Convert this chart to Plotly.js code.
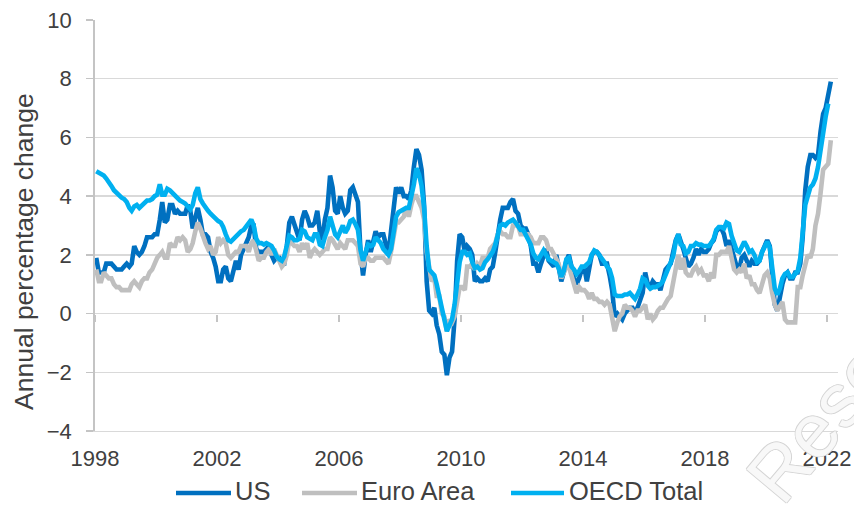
<!DOCTYPE html>
<html>
<head>
<meta charset="utf-8">
<script src="https://cdn.plot.ly/plotly-3.0.1.min.js"></script>
<style>
  html, body { margin: 0; padding: 0; background: #ffffff; }
  #chart { width: 854px; height: 507px; }
</style>
</head>
<body>
<div id="chart"></div>
<script>
// Monthly annual % change, Jan 1998 onward
const startYear = 1998;
const seriesNames = ['US', 'Euro Area', 'OECD Total'];
const seriesColors = ['#0070C0', '#BFBFBF', '#00B0F0'];

const usCpi = [
  1.9,1.4,1.4,1.4,1.7,1.7,1.7,1.6,1.5,1.5,1.5,1.6,
  1.7,1.6,1.7,2.3,2.1,2.0,2.1,2.3,2.6,2.6,2.6,2.7,
  2.7,3.2,3.8,3.1,3.2,3.7,3.7,3.4,3.5,3.4,3.4,3.4,
  3.7,3.5,2.9,3.3,3.6,3.2,2.7,2.7,2.6,2.1,1.9,1.6,
  1.1,1.1,1.5,1.6,1.2,1.1,1.5,1.8,1.5,2.0,2.2,2.4,
  2.6,3.0,3.0,2.2,2.1,2.1,2.1,2.2,2.3,2.0,1.8,1.9,
  1.9,1.7,1.7,2.3,3.1,3.3,3.0,2.7,2.5,3.2,3.5,3.3,
  3.0,3.0,3.1,3.5,2.8,2.5,3.2,3.6,4.7,4.3,3.5,3.4,
  4.0,3.6,3.4,3.5,4.2,4.3,4.1,3.8,2.1,1.3,2.0,2.5,
  2.1,2.4,2.8,2.6,2.7,2.7,2.4,2.0,2.8,3.5,4.3,4.1,
  4.3,4.0,4.0,3.9,4.2,5.0,5.6,5.4,4.9,3.7,1.1,0.1,
  0.0,0.2,-0.4,-0.7,-1.3,-1.4,-2.1,-1.5,-1.3,-0.2,1.8,2.7,
  2.6,2.1,2.3,2.2,2.0,1.1,1.2,1.1,1.1,1.2,1.1,1.5,
  1.6,2.1,2.7,3.2,3.6,3.6,3.6,3.8,3.9,3.5,3.4,3.0,
  2.9,2.9,2.7,2.3,1.7,1.7,1.4,1.7,2.0,2.2,1.8,1.7,
  1.6,2.0,1.5,1.1,1.4,1.8,2.0,1.5,1.2,1.0,1.2,1.5,
  1.6,1.1,1.5,2.0,2.1,2.1,2.0,1.7,1.7,1.7,1.3,0.8,
  -0.1,0.0,-0.1,-0.2,0.0,0.1,0.2,0.2,0.0,0.2,0.5,0.7,
  1.4,1.0,0.9,1.1,1.0,1.0,0.8,1.1,1.5,1.6,1.7,2.1,
  2.5,2.7,2.4,2.2,1.9,1.6,1.7,1.9,2.2,2.0,2.2,2.1,
  2.1,2.2,2.4,2.5,2.8,2.9,2.9,2.7,2.3,2.5,2.2,1.9,
  1.6,1.5,1.9,2.0,1.8,1.6,1.8,1.7,1.7,1.8,2.1,2.3,
  2.5,2.3,1.5,0.3,0.1,0.6,1.0,1.3,1.4,1.2,1.2,1.4,
  1.4,1.7,2.6,4.2,5.0,5.4,5.4,5.3,5.4,6.2,6.8,7.0,
  7.5,7.9
];

const euroHicp = [
  1.5,1.1,1.1,1.4,1.3,1.2,1.2,1.0,0.9,0.9,0.8,0.8,
  0.8,0.8,1.0,1.1,1.0,0.9,1.1,1.2,1.2,1.4,1.5,1.7,
  1.9,2.0,2.1,1.9,1.9,2.4,2.3,2.3,2.6,2.5,2.6,2.5,
  2.1,2.2,2.4,2.8,3.1,2.9,2.6,2.4,2.2,2.3,2.0,2.1,
  2.6,2.4,2.5,2.4,2.0,1.9,2.0,2.1,2.1,2.3,2.3,2.3,
  2.1,2.4,2.5,2.1,1.8,1.9,1.9,2.1,2.2,2.0,2.2,2.0,
  1.8,1.6,1.7,2.0,2.5,2.4,2.3,2.3,2.1,2.4,2.2,2.4,
  1.9,2.1,2.2,2.1,2.0,2.1,2.2,2.2,2.6,2.5,2.3,2.2,
  2.4,2.3,2.2,2.5,2.5,2.5,2.4,2.3,1.7,1.6,1.9,1.9,
  1.8,1.8,1.9,1.9,1.9,1.9,1.8,1.7,2.1,2.6,3.1,3.1,
  3.2,3.3,3.6,3.3,3.7,4.0,4.0,3.8,3.6,3.2,2.1,1.6,
  1.1,1.2,0.6,0.6,0.0,-0.1,-0.6,-0.2,-0.3,-0.1,0.5,0.9,
  0.9,0.8,1.6,1.6,1.7,1.5,1.7,1.6,1.9,1.9,1.9,2.2,
  2.3,2.4,2.7,2.8,2.7,2.7,2.6,2.6,3.0,3.0,3.0,2.7,
  2.7,2.7,2.7,2.6,2.4,2.4,2.4,2.6,2.6,2.5,2.2,2.2,
  2.0,1.8,1.7,1.2,1.4,1.6,1.6,1.3,1.1,0.7,0.9,0.8,
  0.8,0.7,0.5,0.7,0.5,0.5,0.4,0.4,0.3,0.4,0.3,-0.2,
  -0.6,-0.3,-0.1,0.0,0.3,0.2,0.2,0.1,-0.1,0.1,0.1,0.2,
  0.3,-0.2,0.0,-0.2,-0.1,0.1,0.2,0.2,0.4,0.5,0.6,1.1,
  1.7,2.0,1.5,1.9,1.4,1.3,1.3,1.5,1.6,1.4,1.5,1.3,
  1.3,1.1,1.4,1.2,2.0,2.0,2.1,2.1,2.1,2.3,1.9,1.5,
  1.4,1.5,1.4,1.7,1.2,1.3,1.0,1.0,0.8,0.7,1.0,1.3,
  1.4,1.2,0.7,0.3,0.1,0.3,0.4,-0.2,-0.3,-0.3,-0.3,-0.3,
  0.9,0.9,1.3,1.6,2.0,1.9,2.2,3.0,3.4,4.1,4.9,5.0,
  5.1,5.9
];

const oecdCpi = [
  4.85,4.8,4.75,4.7,4.6,4.5,4.35,4.2,4.1,4.0,3.95,3.9,
  3.8,3.6,3.5,3.65,3.7,3.6,3.7,3.8,3.85,3.85,3.9,4.0,
  4.05,4.4,4.05,4.05,4.25,4.2,4.1,4.0,3.95,3.85,3.8,3.75,
  3.65,3.55,3.7,4.1,4.3,3.9,3.75,3.6,3.5,3.4,3.3,3.2,
  3.15,3.1,2.95,2.7,2.5,2.45,2.55,2.65,2.75,2.8,2.85,2.95,
  3.05,3.2,3.0,2.55,2.4,2.4,2.35,2.4,2.35,2.3,2.15,1.95,
  1.85,1.8,1.95,2.4,2.65,2.6,2.5,2.5,2.55,2.85,2.8,2.6,
  2.55,2.5,2.7,2.7,2.35,2.3,2.6,2.85,3.3,3.05,2.7,2.6,
  2.8,3.0,2.75,2.9,3.15,3.2,3.05,2.85,2.15,1.8,2.1,2.35,
  2.3,2.35,2.6,2.5,2.4,2.2,2.1,2.0,2.2,2.8,3.3,3.45,
  3.5,3.55,3.6,3.6,3.95,4.4,4.95,4.75,4.35,3.6,2.3,1.5,
  1.4,1.3,1.0,0.6,0.15,-0.2,-0.6,-0.4,-0.2,0.3,1.2,1.75,
  2.1,2.1,2.0,2.05,1.75,1.55,1.6,1.5,1.55,1.75,1.85,1.95,
  2.1,2.35,2.75,3.0,3.05,3.0,3.1,3.15,3.2,3.1,2.95,2.85,
  2.85,2.7,2.5,2.35,2.05,1.9,1.85,2.0,2.15,2.0,1.85,1.8,
  1.75,1.7,1.55,1.25,1.45,1.85,1.9,1.6,1.5,1.35,1.45,1.6,
  1.6,1.7,1.75,2.0,2.15,2.1,2.0,1.85,1.75,1.6,1.5,1.2,
  0.65,0.6,0.6,0.6,0.65,0.65,0.7,0.6,0.5,0.65,0.85,1.2,
  1.15,0.95,0.85,0.9,0.9,0.95,1.0,1.1,1.3,1.55,1.7,1.95,
  2.45,2.7,2.35,2.3,2.05,2.1,2.3,2.3,2.4,2.35,2.35,2.3,
  2.3,2.3,2.4,2.55,2.85,2.95,2.95,2.9,3.1,3.05,2.65,2.4,
  2.15,2.1,2.3,2.45,2.3,2.1,2.15,2.0,1.75,1.8,2.1,2.3,
  2.45,2.25,1.55,0.85,0.65,0.85,1.2,1.35,1.4,1.25,1.25,1.35,
  1.45,1.9,2.9,3.7,4.0,4.3,4.4,4.6,5.0,5.6,6.2,6.7,
  7.15
];

const tickYears = [1998, 2002, 2006, 2010, 2014, 2018, 2022];
const yTicks = [-4, -2, 0, 2, 4, 6, 8, 10];

function monthDates(n) {
  const out = [];
  for (let i = 0; i < n; i++) {
    const y = startYear + Math.floor(i / 12);
    const m = (i % 12) + 1;
    out.push(y + '-' + String(m).padStart(2, '0') + '-16');
  }
  return out;
}

const allSeries = [usCpi, euroHicp, oecdCpi];
const traces = allSeries.map((vals, k) => ({
  type: 'scatter',
  mode: 'lines',
  name: seriesNames[k],
  x: monthDates(vals.length),
  y: vals,
  xaxis: k === 2 ? 'x2' : 'x',
  line: { color: seriesColors[k], width: 4.6 },
  showlegend: false,
  hoverinfo: 'skip'
}));

const tickDates = tickYears.map(y => y + '-01-01');
const xRange = ['1998-01-01', '2022-05-13'];
const textColor = '#404040';
const gridColor = '#D9D9D9';
const axisColor = '#C4C4C4';

// plot area in pixels
const L = 95, R = 838, T = 20, B = 431;
const px = v => (v - L) / (R - L);
const py = v => (B - v) / (B - T);

const legendLines = [[176, 231], [302, 357], [511, 564]];
const legendTextX = [233, 359, 567];
const legendLineY = 493;
const legendTextY = 491;

const shapes = legendLines.map((seg, k) => ({
  type: 'line', xref: 'paper', yref: 'paper',
  x0: px(seg[0]), x1: px(seg[1]), y0: py(legendLineY), y1: py(legendLineY),
  line: { color: seriesColors[k], width: 4.6 }
}));

const annotations = seriesNames.map((name, k) => ({
  xref: 'paper', yref: 'paper',
  x: px(legendTextX[k]), y: py(legendTextY),
  xanchor: 'left', yanchor: 'middle',
  text: name, showarrow: false,
  font: { family: 'Liberation Sans, Arial, sans-serif', size: 25.5, color: textColor }
}));

annotations.push({
  xref: 'paper', yref: 'paper',
  x: px(24), y: py(252),
  xanchor: 'center', yanchor: 'middle',
  textangle: -90,
  text: 'Annual percentage change', showarrow: false,
  font: { family: 'Liberation Sans, Arial, sans-serif', size: 26.5, color: textColor }
});

// faint watermark partly outside the frame, as in the source image
annotations.push({
  xref: 'paper', yref: 'paper',
  x: px(866), y: py(366),
  xanchor: 'center', yanchor: 'middle',
  textangle: -50,
  text: 'Research', showarrow: false,
  font: { family: 'Liberation Sans, Arial, sans-serif', size: 76, color: '#F8F8F8',
          shadow: '1px 0 0 #D4D4D4, -1px 0 0 #D4D4D4, 0 1px 0 #D4D4D4, 0 -1px 0 #D4D4D4' }
});

const layout = {
  width: 854, height: 507,
  margin: { l: L, r: 854 - R, t: T, b: 507 - B, pad: 0 },
  paper_bgcolor: '#FFFFFF', plot_bgcolor: '#FFFFFF',
  font: { family: 'Liberation Sans, Arial, sans-serif', color: textColor },
  showlegend: false,
  xaxis: {
    type: 'date', range: xRange,
    tickmode: 'array', tickvals: tickDates, ticktext: tickYears.map(String),
    ticks: '', showgrid: false, zeroline: false,
    showline: true, linecolor: gridColor, linewidth: 1.3,
    tickfont: { size: 22, color: textColor },
    ticklabelstandoff: 7
  },
  xaxis2: {
    type: 'date', range: xRange, overlaying: 'x', anchor: 'free',
    position: (0 - yTicks[0]) / (yTicks[yTicks.length - 1] - yTicks[0]),
    side: 'bottom',
    tickmode: 'array', tickvals: tickDates,
    ticks: 'outside', ticklen: 7, tickwidth: 1.3, tickcolor: axisColor,
    showticklabels: false, showgrid: false, zeroline: false, showline: false
  },
  yaxis: {
    range: [yTicks[0], yTicks[yTicks.length - 1]],
    tickmode: 'array', tickvals: yTicks,
    showgrid: true, gridcolor: gridColor, gridwidth: 1.3,
    zeroline: false,
    showline: true, linecolor: axisColor, linewidth: 1.8,
    ticks: 'outside', ticklen: 7, tickwidth: 1.3, tickcolor: axisColor,
    tickfont: { size: 22, color: textColor },
    ticklabelstandoff: 10
  },
  shapes: shapes,
  annotations: annotations
};

Plotly.newPlot('chart', traces, layout, { staticPlot: true, displayModeBar: false });
</script>
</body>
</html>
